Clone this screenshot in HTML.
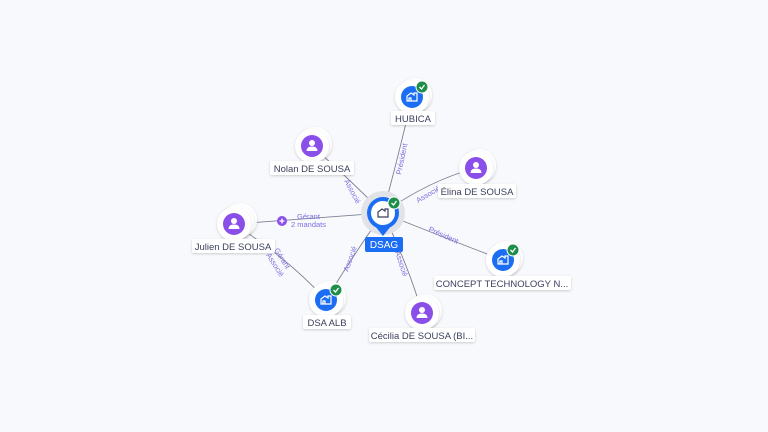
<!DOCTYPE html>
<html><head><meta charset="utf-8"><style>
html,body{margin:0;padding:0;background:#f8f9fc;}
svg{display:block;font-family:"Liberation Sans",sans-serif;}
.lb{font-size:9.5px;fill:#3a3f5c;}
.el{font-size:7.5px;fill:#7b6fe0;}
</style></head><body>
<svg width="768" height="432" viewBox="0 0 768 432" xmlns="http://www.w3.org/2000/svg">
<defs>
<filter id="sh" x="-50%" y="-50%" width="200%" height="200%"><feDropShadow dx="0" dy="1" stdDeviation="1.2" flood-color="#000" flood-opacity="0.18"/></filter>
<g id="comp">
<circle r="17" fill="#fff" filter="url(#sh)"/>
<circle r="11" fill="#1b6ef3"/>
<path d="M-5,4 V-1 L-1,-4 L2,-2 V-4 H5 V4 Z M-3,4 V1 H-1 V4" fill="none" stroke="#fff" stroke-width="1.2"/>
<circle cx="10" cy="-10" r="6" fill="#1e8e4a" stroke="#fff" stroke-width="1"/>
<path d="M7.5,-10 L9.5,-8 L12.5,-12" fill="none" stroke="#fff" stroke-width="1.3"/>
</g>
<g id="pers">
<circle r="17" fill="#fff" filter="url(#sh)"/>
<circle r="11" fill="#8a4fe8"/>
<circle cy="-3" r="3" fill="#fff"/>
<path d="M-5.5,5 Q-5.5,0.5 0,0.5 Q5.5,0.5 5.5,5 Z" fill="#fff"/>
</g>
</defs>
<g stroke="#7d8194" stroke-width="0.9" fill="none">
<path d="M383,213 Q400,150 412,97"/>
<path d="M383,213 Q345,175 312,146"/>
<path d="M383,213 Q430,180 476,168"/>
<path d="M383,213 L234,224"/>
<path d="M383,213 Q450,240 503,260"/>
<path d="M383,213 Q350,260 326,300"/>
<path d="M383,213 Q410,270 422,313"/>
<path d="M234,224 Q290,260 326,300"/>
</g>
<g class="el">
<text transform="translate(401,175) rotate(-78)">Président</text>
<text transform="translate(344,181) rotate(62)">Associé</text>
<text transform="translate(418,203) rotate(-30)">Associé</text>
<text x="297" y="219">Gérant</text>
<text x="291" y="227">2 mandats</text>
<text transform="translate(428,231) rotate(24)">Président</text>
<text transform="translate(348,272) rotate(-70)">Associé</text>
<text transform="translate(395,252) rotate(72)">Associé</text>
<text transform="translate(274,250) rotate(58)">Gérant</text>
<text transform="translate(266,255) rotate(58)">Associé</text>
</g>
<circle cx="282" cy="221" r="5" fill="#8a4fe8"/>
<path d="M279.5,221 H284.5 M282,218.5 V223.5" stroke="#fff" stroke-width="1.3"/>
<circle cx="383" cy="213" r="22" fill="#e2e3e8"/>
<path d="M371,221 L383,236 L395,221 Z" fill="#1b6ef3"/>
<circle cx="383" cy="213" r="16" fill="#1b6ef3"/>
<circle cx="383" cy="213" r="12" fill="#fff"/>
<path d="M378,217 V212 L382,209 L385,211 V209 H388 V217 Z" fill="none" stroke="#3a3f5c" stroke-width="1.2"/>
<circle cx="394" cy="203" r="6" fill="#1e8e4a" stroke="#fff" stroke-width="1"/>
<path d="M391.5,203 L393.5,205 L396.5,201" fill="none" stroke="#fff" stroke-width="1.3"/>
<rect x="365" y="237" width="38" height="15" rx="2" fill="#1b6ef3"/>
<text x="384" y="248" text-anchor="middle" font-size="10" fill="#fff">DSAG</text>
<circle cx="415" cy="95" r="17" fill="#fff" filter="url(#sh)"/>
<use href="#comp" x="412" y="97"/>
<circle cx="315" cy="144" r="17" fill="#fff" filter="url(#sh)"/>
<use href="#pers" x="312" y="146"/>
<circle cx="479" cy="166" r="17" fill="#fff" filter="url(#sh)"/>
<use href="#pers" x="476" y="168"/>
<circle cx="240" cy="220" r="17" fill="#fff" filter="url(#sh)"/>
<circle cx="237" cy="222" r="17" fill="#fff" filter="url(#sh)"/>
<use href="#pers" x="234" y="224"/>
<circle cx="506" cy="258" r="17" fill="#fff" filter="url(#sh)"/>
<use href="#comp" x="503" y="260"/>
<circle cx="329" cy="298" r="17" fill="#fff" filter="url(#sh)"/>
<use href="#comp" x="326" y="300"/>
<circle cx="425" cy="311" r="17" fill="#fff" filter="url(#sh)"/>
<use href="#pers" x="422" y="313"/>
<g filter="url(#sh)" fill="#fff">
<rect x="391" y="111" width="44" height="14" rx="2"/>
<rect x="270" y="161" width="84" height="14" rx="2"/>
<rect x="438" y="184" width="78" height="14" rx="2"/>
<rect x="192" y="239" width="83" height="14" rx="2"/>
<rect x="434" y="276" width="137" height="14" rx="2"/>
<rect x="303" y="315" width="48" height="14" rx="2"/>
<rect x="369" y="328" width="106" height="14" rx="2"/>
</g>
<g class="lb" text-anchor="middle">
<text x="413" y="122">HUBICA</text>
<text x="312" y="172">Nolan DE SOUSA</text>
<text x="477" y="195">Élina DE SOUSA</text>
<text x="233" y="250">Julien DE SOUSA</text>
<text x="502" y="287">CONCEPT TECHNOLOGY N...</text>
<text x="327" y="326">DSA ALB</text>
<text x="422" y="339">Cécilia DE SOUSA (BI...</text>
</g>
</svg>
</body></html>
